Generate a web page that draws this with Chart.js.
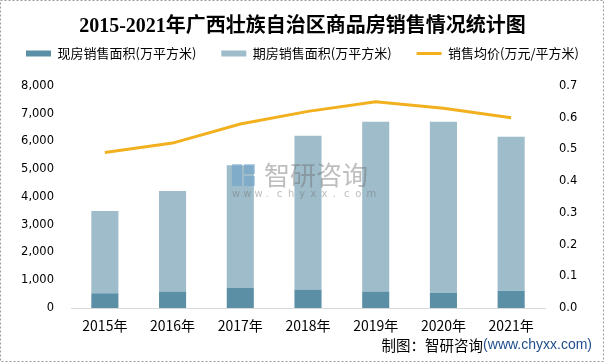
<!DOCTYPE html>
<html>
<head>
<meta charset="utf-8">
<script src="https://cdn.jsdelivr.net/npm/chart.js@4"></script>
<style>
  html, body { margin: 0; padding: 0; background: #fff; }
  #wrap { width: 605px; height: 364px; position: relative; }
</style>
</head>
<body>
<div id="wrap"><canvas id="myChart" width="605" height="364"></canvas></div>
<script>
const years = ['2015年', '2016年', '2017年', '2018年', '2019年', '2020年', '2021年'];
const spotArea = [530, 590, 730, 660, 590, 550, 620];          // 现房销售面积
const futureArea = [2970, 3630, 4410, 5550, 6120, 6160, 5550]; // 期房销售面积
const avgPrice = [0.49, 0.52, 0.58, 0.62, 0.65, 0.63, 0.60];   // 销售均价

const cjk = '"Noto Sans CJK SC", "Noto Sans", sans-serif';

// extra gap under the legend
const legendGap = {
    id: 'legendGap',
    beforeLayout(chart) {
        const lg = chart.legend;
        if (lg && !lg._gapPatched) {
            const fit = lg.fit;
            lg.fit = function () {
                fit.call(this);
                this.height += 16;
            };
            lg._gapPatched = true;
        }
    }
};

// watermark, source note and frame
const extras = {
    id: 'extras',
    afterDatasetsDraw(chart) {
        const ctx = chart.ctx;
        ctx.save();
        ctx.fillStyle = 'rgba(90,150,200,0.45)';
        ctx.fillRect(232, 164, 10, 22);
        ctx.fillRect(244, 164, 11, 10);
        ctx.fillRect(244, 176, 11, 10);
        ctx.font = '26px ' + cjk;
        ctx.fillStyle = 'rgba(110,110,110,0.45)';
        ctx.textBaseline = 'middle';
        ctx.textAlign = 'left';
        ctx.fillText('智研咨询', 264, 175);
        ctx.font = '10px "DejaVu Sans", sans-serif';
        const url = 'www.chyxx.com';
        for (let i = 0; i < url.length; i++) {
            ctx.fillText(url[i], 232 + i * 11.2, 194);
        }
        ctx.restore();
    },
    afterDraw(chart) {
        const ctx = chart.ctx;
        ctx.save();
        ctx.textBaseline = 'middle';
        ctx.textAlign = 'right';
        const src = '(www.chyxx.com)';
        ctx.font = '14px "Liberation Sans", sans-serif';
        ctx.fillStyle = '#1f4e8c';
        const w = ctx.measureText(src).width;
        ctx.fillText(src, 592, 345);
        ctx.font = '14.5px ' + cjk;
        ctx.fillStyle = '#000';
        ctx.fillText('制图：智研咨询', 592 - w, 345);
        ctx.strokeStyle = '#9a9a9a';
        ctx.setLineDash([2, 2]);
        ctx.lineWidth = 1;
        ctx.strokeRect(0.5, 0.5, 603, 361);
        ctx.restore();
    }
};

const ctx = document.getElementById('myChart').getContext('2d');
new Chart(ctx, {
    data: {
        labels: years,
        datasets: [{
            type: 'line',
            label: '销售均价(万元/平方米)',
            data: avgPrice,
            yAxisID: 'y1',
            borderColor: '#f2b01e',
            backgroundColor: '#f2b01e',
            borderWidth: 3,
            pointRadius: 0,
            tension: 0,
            order: 0
        }, {
            type: 'bar',
            label: '现房销售面积(万平方米)',
            data: spotArea,
            backgroundColor: '#5b8fa6',
            stack: 's',
            barPercentage: 0.4,
            categoryPercentage: 1,
            order: 1
        }, {
            type: 'bar',
            label: '期房销售面积(万平方米)',
            data: futureArea,
            backgroundColor: '#9ebcca',
            stack: 's',
            barPercentage: 0.4,
            categoryPercentage: 1,
            order: 1
        }]
    },
    options: {
        responsive: false,
        animation: false,
        layout: { padding: 0 },
        plugins: {
            title: {
                display: true,
                text: '2015-2021年广西壮族自治区商品房销售情况统计图',
                color: '#000',
                font: { family: '"Liberation Serif", "Noto Sans CJK SC", serif', size: 20, weight: 'bold' },
                padding: { top: 15, bottom: -17 }
            },
            legend: {
                display: true,
                labels: {
                    color: '#000',
                    font: { family: cjk, size: 13 },
                    usePointStyle: true,
                    pointStyleWidth: 25,
                    boxHeight: 6,
                    padding: 25,
                    sort: (a, b) => [1, 2, 0].indexOf(a.datasetIndex) - [1, 2, 0].indexOf(b.datasetIndex),
                    generateLabels(chart) {
                        const items = Chart.defaults.plugins.legend.labels.generateLabels(chart);
                        items.forEach(it => {
                            if (it.datasetIndex === 0) {
                                it.pointStyle = 'line';
                                it.lineWidth = 3;
                            } else {
                                it.pointStyle = 'rect';
                                it.lineWidth = 0;
                            }
                        });
                        return items;
                    }
                }
            },
            tooltip: { enabled: false }
        },
        scales: {
            x: {
                stacked: true,
                grid: { display: false, drawTicks: false },
                border: { display: true, color: '#d9d9d9' },
                ticks: { color: '#000', font: { family: cjk, size: 14 }, padding: 9 },
                afterFit(scale) { scale.height = 56; }
            },
            y: {
                stacked: true,
                position: 'left',
                min: 0,
                max: 8000,
                grid: { display: false, drawTicks: false },
                border: { display: false },
                ticks: {
                    stepSize: 1000,
                    color: '#000',
                    font: { family: '"DejaVu Sans", sans-serif', size: 11.5 },
                    padding: 17,
                    callback: v => v.toLocaleString('en-US')
                },
                afterFit(scale) { scale.width = 71; }
            },
            y1: {
                position: 'right',
                min: 0,
                max: 0.7,
                grid: { display: false, drawTicks: false },
                border: { display: false },
                ticks: {
                    stepSize: 0.1,
                    color: '#000',
                    font: { family: '"DejaVu Sans", sans-serif', size: 11.5 },
                    padding: 14,
                    callback: v => v.toFixed(1)
                },
                afterFit(scale) { scale.width = 60; }
            }
        }
    },
    plugins: [legendGap, extras]
});
</script>
</body>
</html>
